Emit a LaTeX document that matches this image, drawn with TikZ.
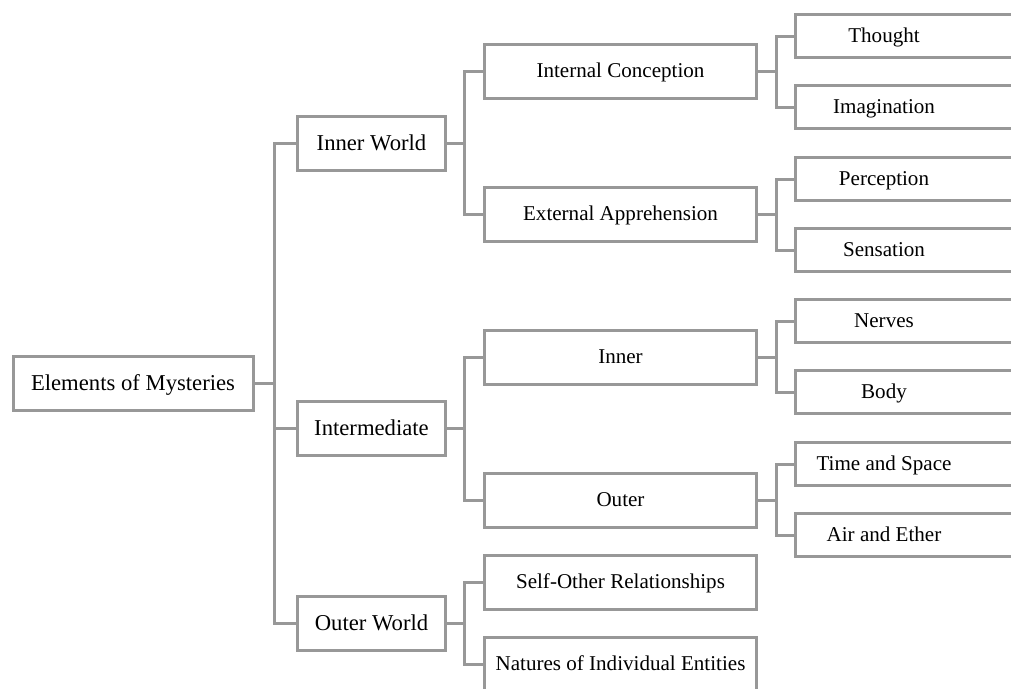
\documentclass[tikz,border=0pt]{standalone}
\usepackage{fontspec}
\setmainfont{Liberation Serif}
\definecolor{boxline}{RGB}{152,152,152}
\begin{document}
\begin{tikzpicture}[x=0.75pt,y=-0.75pt,
  box/.style={draw=boxline,line width=2.25pt,fill=white,inner sep=0pt,
    font=\fontsize{15.8}{19}\selectfont,text=black,text height=10.4pt,text depth=0pt},
  bigtext/.style={font=\fontsize{17}{20}\selectfont,text height=11.2pt},
  rootbox/.style={box,bigtext,minimum width=180pt,minimum height=41pt},
  lonebox/.style={box,bigtext,minimum width=111pt,minimum height=40.5pt},
  ltwobox/.style={box,minimum width=204pt,minimum height=40.5pt},
  lthreebox/.style={box,minimum width=180pt,minimum height=32.5pt},
  tag/.style={label={[xshift=-23.25pt,font=\fontsize{15.8}{19}\selectfont,
    text height=10.4pt,text depth=0pt,inner sep=0pt]center:#1}},
  link/.style={draw=boxline,line width=2.25pt}]
\useasboundingbox (0,0) rectangle (1011,689);
\clip (0,0) rectangle (1011,689);

% root
\node[rootbox] (root) at (133,383.5) {Elements of Mysteries};

% first level
\node[lonebox] (iw) at (371.5,143) {Inner World};
\node[lonebox] (im) at (371.5,428) {Intermediate};
\node[lonebox] (ow) at (371.5,623) {Outer World};

% second level
\node[ltwobox] (ic) at (620.5,71) {Internal Conception};
\node[ltwobox] (ea) at (620.5,214) {External Apprehension};
\node[ltwobox] (in) at (620.5,357) {Inner};
\node[ltwobox] (ou) at (620.5,500) {Outer};
\node[ltwobox] (so) at (620.5,582) {Self-Other Relationships};
\node[ltwobox] (ni) at (620.5,664) {Natures of Individual Entities};

% third level (boxes run off the right edge)
\node[lthreebox,tag=Thought] (th) at (915,36) {};
\node[lthreebox,tag=Imagination] (ig) at (915,107) {};
\node[lthreebox,tag=Perception] (pe) at (915,179) {};
\node[lthreebox,tag=Sensation] (se) at (915,250) {};
\node[lthreebox,tag=Nerves] (ne) at (915,321) {};
\node[lthreebox,tag=Body] (bo) at (915,392) {};
\node[lthreebox,tag=Time and Space] (ts) at (915,464) {};
\node[lthreebox,tag=Air and Ether] (ae) at (915,535) {};

% connectors
\foreach \c in {iw,im,ow}
  \path[link] (root.east) -- ++(20,0) |- (\c.west);
\foreach \c in {ic,ea}
  \path[link] (iw.east) -- ++(17,0) |- (\c.west);
\foreach \c in {in,ou}
  \path[link] (im.east) -- ++(17,0) |- (\c.west);
\foreach \c in {so,ni}
  \path[link] (ow.east) -- ++(17,0) |- (\c.west);
\foreach \p/\a/\b in {ic/th/ig,ea/pe/se,in/ne/bo,ou/ts/ae}{
  \path[link] (\p.east) -- ++(18,0) |- (\a.west);
  \path[link] (\p.east) -- ++(18,0) |- (\b.west);
}
\end{tikzpicture}
\end{document}
